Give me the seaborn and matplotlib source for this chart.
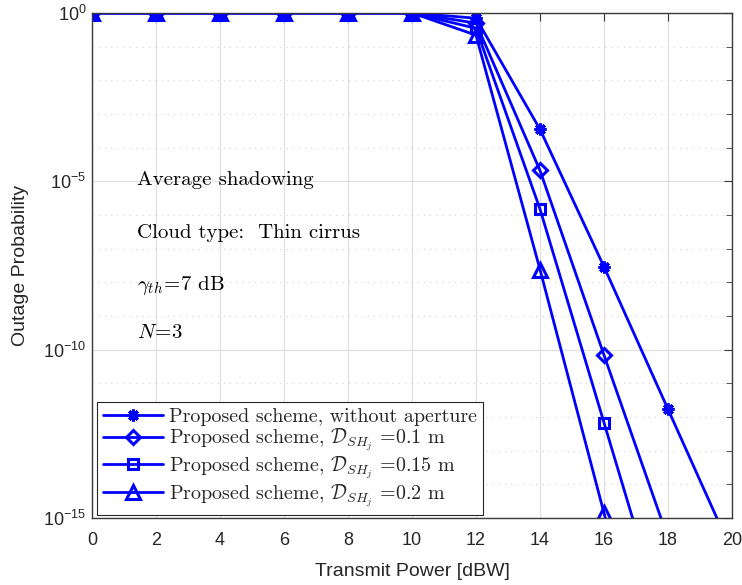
import numpy as np
import pandas as pd
import matplotlib
matplotlib.use("Agg")
import matplotlib.pyplot as plt
import seaborn as sns
from matplotlib.ticker import FixedLocator, LogFormatterSciNotation, NullFormatter

sns.set_style("white")
plt.rcParams["font.family"] = ["Liberation Sans", "DejaVu Sans"]
plt.rcParams["mathtext.fontset"] = "custom"
plt.rcParams["mathtext.rm"] = "Liberation Sans"
plt.rcParams["mathtext.it"] = "Liberation Sans:italic"
plt.rcParams["mathtext.bf"] = "Liberation Sans:bold"

# Transmit power (dBW)
power = [0, 2, 4, 6, 8, 10, 12, 14, 16, 18, 20]

# Outage probability for each scheme
p_no_aperture = [1, 1, 1, 1, 1, 1, 0.70, 3.5e-4, 2.9e-8, 1.7e-12, 1.0e-16]
p_d010 = [1, 1, 1, 1, 1, 1, 0.50, 2.1e-5, 6.9e-11, 2.5e-16, 1.0e-21]
p_d015 = [1, 1, 1, 1, 1, 1, 0.35, 1.5e-6, 6.8e-13, 3.0e-19, 1.0e-25]
p_d020 = [1, 1, 1, 1, 1, 1, 0.22, 2.4e-8, 1.4e-15, 1.0e-22, 1.0e-29]

labels = [
    "Proposed scheme, without aperture",
    r"Proposed scheme, $\mathcal{D}_{SH_j}$ =0.1 m",
    r"Proposed scheme, $\mathcal{D}_{SH_j}$ =0.15 m",
    r"Proposed scheme, $\mathcal{D}_{SH_j}$ =0.2 m",
]
series = [p_no_aperture, p_d010, p_d015, p_d020]
markers = [(8, 2, 0), "D", "s", "^"]
msizes = [8.5, 7.5, 7, 10]

fig = plt.figure(figsize=(7.42, 5.85), dpi=100)
ax = fig.add_axes([92 / 742, 1 - 518 / 585, 640 / 742, 505 / 585])

for vals, lab, mk, ms in zip(series, labels, markers, msizes):
    df = pd.DataFrame({"power": power, "pout": vals})
    sns.lineplot(data=df, x="power", y="pout", ax=ax, color="#0000ff",
                 linewidth=2.0, marker=mk, markersize=ms, mfc="none",
                 mec="#0000ff", mew=2.2, label=lab)

ax.set_yscale("log")
ax.set_xlim(0, 20)
ax.set_ylim(1e-15, 1e0)
ax.set_xticks(np.arange(0, 21, 2))
ax.yaxis.set_major_locator(FixedLocator([1e-15, 1e-10, 1e-5, 1e0]))
ax.yaxis.set_major_formatter(LogFormatterSciNotation())
ax.yaxis.set_minor_locator(FixedLocator([10.0 ** -k for k in range(0, 16)]))
ax.yaxis.set_minor_formatter(NullFormatter())

axis_gray = "#3a3a3a"
for s in ax.spines.values():
    s.set_color(axis_gray)
    s.set_linewidth(1.0)
ax.tick_params(axis="both", which="both", direction="in", top=True, right=True,
               color=axis_gray, labelcolor="#262626", labelsize=13)
ax.tick_params(which="major", length=6)
ax.tick_params(which="minor", length=4)
ax.tick_params(axis="x", which="both", pad=10)
ax.tick_params(axis="y", which="both", pad=4)

ax.grid(True, which="major", color="#e0e0e0", linewidth=0.9, linestyle="-")
ax.yaxis.grid(True, which="minor", color="#d8d8d8", linewidth=0.9, linestyle=(0, (1, 4)))
ax.set_axisbelow(True)

ax.set_xlabel("Transmit Power [dBW]", fontsize=14, color="#262626", labelpad=10)
ax.set_ylabel("Outage Probability", fontsize=14, color="#262626", labelpad=10)

notes = [
    (1.4, 10 ** -4.96, "Average shadowing"),
    (1.4, 10 ** -6.52, "Cloud type:  Thin cirrus"),
    (1.4, 10 ** -8.08, r"$\gamma_{th}\!=\!7$ dB"),
    (1.4, 10 ** -9.5, r"$N\!=\!3$"),
]
for x, y, t in notes:
    txt = ax.text(x, y, t, fontsize=15, va="center", ha="left", color="black",
                  family="cmr10")
    txt.set_math_fontfamily("cm")

leg = ax.legend(loc="lower left", bbox_to_anchor=(0.008, 0.006), borderaxespad=0,
                prop={"family": "cmr10", "size": 14.4}, handlelength=3.0,
                handletextpad=0.3, labelspacing=0.05, borderpad=0.3,
                frameon=True, fancybox=False, framealpha=1)
leg.get_frame().set_edgecolor("#262626")
leg.get_frame().set_linewidth(0.8)
for t in leg.get_texts():
    t.set_math_fontfamily("cm")

fig.savefig("out.png", dpi=100)
